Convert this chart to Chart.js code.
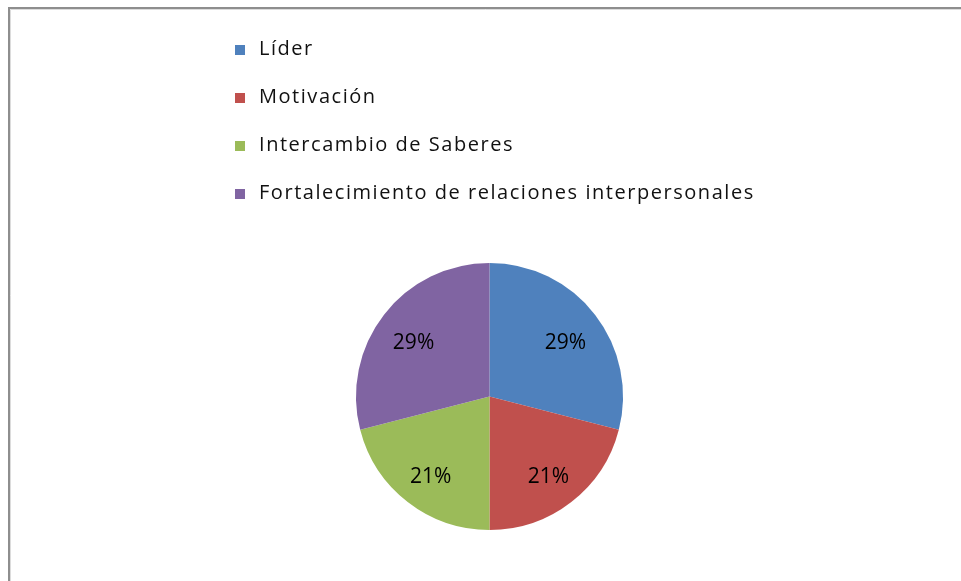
<!DOCTYPE html>
<html>
<head>
<meta charset="utf-8">
<script src="https://cdn.jsdelivr.net/npm/chart.js@4.4.1/dist/chart.umd.min.js"></script>
<style>
  html, body { margin: 0; padding: 0; background: #ffffff; }
  #wrap { width: 961px; height: 581px; position: relative; }
</style>
</head>
<body>
<div id="wrap"><canvas id="c" width="961" height="581"></canvas></div>
<script>
// ---- data ----
const categories = ["Líder", "Motivación", "Intercambio de Saberes", "Fortalecimiento de relaciones interpersonales"];
const values = [29, 21, 21, 29];
const colors = ["#4F81BD", "#C0504D", "#9BBB59", "#8064A2"];

// frame around the chart
const framePlugin = {
  id: "frame",
  beforeDraw(chart) {
    const ctx = chart.ctx;
    ctx.save();
    ctx.strokeStyle = "#8e8e8e";
    ctx.lineWidth = 2;
    ctx.beginPath();
    ctx.moveTo(9, chart.height);
    ctx.lineTo(9, 8);
    ctx.lineTo(chart.width, 8);
    ctx.stroke();
    ctx.strokeStyle = "#dcdcdc";
    ctx.lineWidth = 1;
    ctx.beginPath();
    ctx.moveTo(10.5, chart.height);
    ctx.lineTo(10.5, 9.5);
    ctx.lineTo(chart.width, 9.5);
    ctx.stroke();
    ctx.restore();
  }
};

// vertical legend drawn at top-left area
const vLegend = {
  id: "vLegend",
  afterDraw(chart, args, opts) {
    const ctx = chart.ctx;
    const labels = chart.data.labels;
    const bg = chart.data.datasets[0].backgroundColor;
    ctx.save();
    ctx.font = opts.font;
    let longest = labels.reduce((a, b) => (ctx.measureText(b).width > ctx.measureText(a).width ? b : a));
    const w = ctx.measureText(longest).width;
    const ls = Math.max(0, (opts.targetWidth - w) / (longest.length - 1));
    ctx.letterSpacing = ls.toFixed(2) + "px";
    ctx.textBaseline = "alphabetic";
    ctx.textAlign = "left";
    labels.forEach((lab, i) => {
      const base = opts.firstBaseline + i * opts.step;
      ctx.fillStyle = bg[i];
      ctx.fillRect(opts.boxX, base - opts.boxSize, opts.boxSize, opts.boxSize);
      ctx.fillStyle = opts.color;
      ctx.fillText(lab, opts.textX, base);
    });
    ctx.restore();
  }
};

// percent labels inside slices
const pctLabels = {
  id: "pctLabels",
  afterDatasetsDraw(chart, args, opts) {
    const ctx = chart.ctx;
    const meta = chart.getDatasetMeta(0);
    const data = chart.data.datasets[0].data;
    const total = data.reduce((a, b) => a + b, 0);
    ctx.save();
    ctx.font = opts.font;
    ctx.fillStyle = opts.color;
    ctx.textAlign = "center";
    ctx.textBaseline = "middle";
    meta.data.forEach((arc, i) => {
      const p = arc.getProps(["x", "y", "startAngle", "endAngle", "outerRadius"], true);
      const mid = (p.startAngle + p.endAngle) / 2;
      const r = p.outerRadius * opts.ratio;
      const x = p.x + Math.cos(mid) * r;
      const y = p.y + Math.sin(mid) * r + opts.dy;
      ctx.fillText(Math.round(data[i] / total * 100) + "%", x, y);
    });
    ctx.restore();
  }
};

new Chart(document.getElementById("c"), {
  type: "pie",
  data: {
    labels: categories,
    datasets: [{
      data: values,
      backgroundColor: colors,
      borderWidth: 0
    }]
  },
  options: {
    responsive: false,
    animation: false,
    layout: { padding: { top: 263, bottom: 51, left: 356, right: 338 } },
    plugins: {
      legend: { display: false },
      tooltip: { enabled: false },
      vLegend: {
        font: "20px 'Open Sans'",
        color: "#111111",
        targetWidth: 494,
        firstBaseline: 55,
        step: 48,
        boxX: 235,
        boxSize: 10,
        textX: 259
      },
      pctLabels: { font: "21px 'Open Sans'", color: "#000000", ratio: 0.72, dy: 5 }
    }
  },
  plugins: [framePlugin, vLegend, pctLabels]
});
</script>
</body>
</html>
